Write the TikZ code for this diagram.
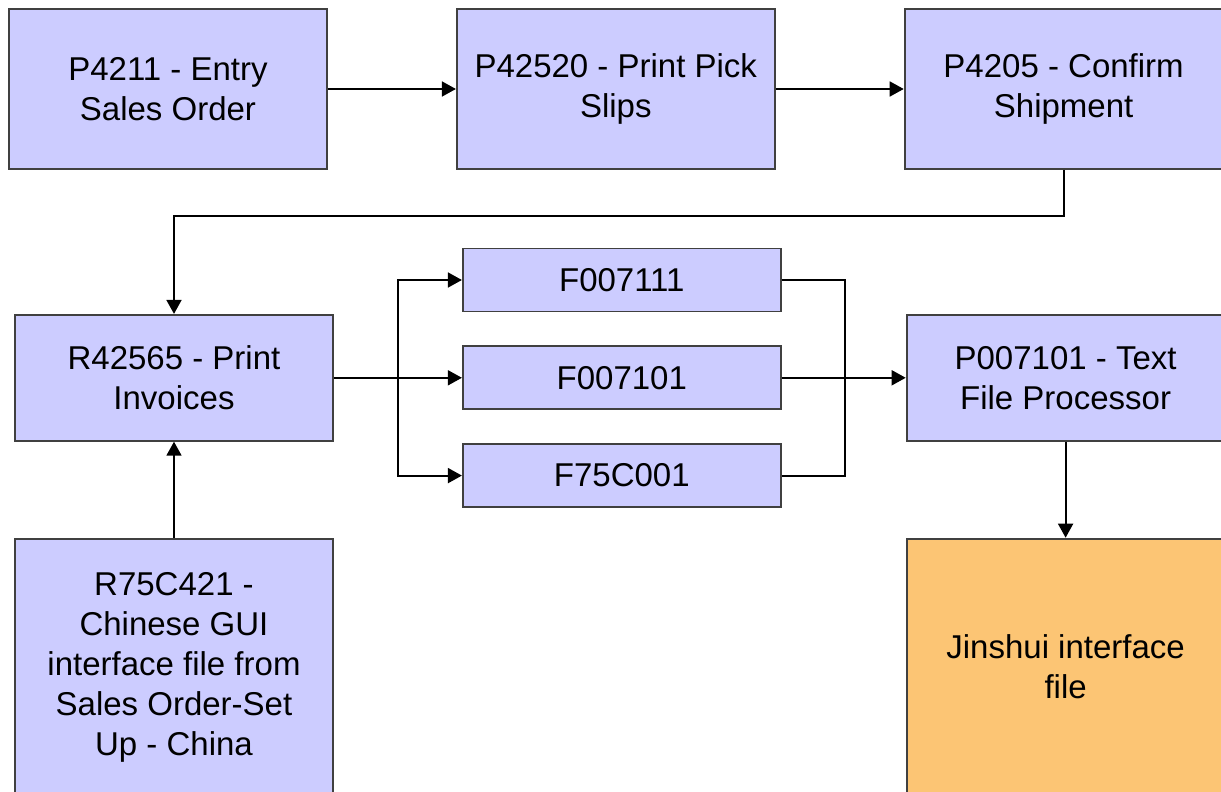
\documentclass[tikz,border=0pt]{standalone}
\usepackage{fontspec}
\setmainfont{Liberation Sans}
\usetikzlibrary{positioning,arrows.meta}

\definecolor{boxblue}{HTML}{CCCCFF}
\definecolor{boxorange}{HTML}{FCC574}
\definecolor{boxline}{HTML}{404040}

\begin{document}
\begin{tikzpicture}[node distance=64pt,
				>={Triangle[length=7pt,width=7.5pt]},
				every path/.style={line width=0.9pt},
				box/.style={
						draw=boxline,
						fill=boxblue,
						align=center,
						font=\fontsize{16.5}{20}\selectfont,
						inner sep=0pt,
						minimum width=159pt,
						minimum height=80pt},
				table/.style={box, minimum height=31.5pt},
				output/.style={box, fill=boxorange, minimum height=128.5pt}]

			\useasboundingbox (0,0) rectangle (610.5pt,-396pt);

			\node[box] (entry) at (84pt,-44.5pt) {P4211 - Entry\\Sales Order};
			\node[box] (pick) [right=of entry] {P42520 - Print Pick\\Slips};
			\node[box] (ship) [right=of pick] {P4205 - Confirm\\Shipment};
			\node[box, minimum height=63pt] (invoice) [below=72pt of entry, xshift=3pt] {R42565 - Print\\Invoices};
			\node[table] (f2) [right=of invoice] {F007101};
			\node[table] (f1) [above=16.5pt of f2] {F007111};
			\node[table] (f3) [below=16.5pt of f2] {F75C001};
			\node[box, minimum height=63pt] (textproc) [right=62pt of f2] {P007101 - Text\\File Processor};
			\node[output] (jinshui) [below=48pt of textproc] {Jinshui interface\\file};
			\node[box, minimum height=128.5pt] (setup) [below=48pt of invoice] {R75C421 -\\Chinese GUI\\interface file from\\Sales Order-Set\\Up - China};

			\coordinate[right=32pt of invoice.east] (split);
			\coordinate[right=31.5pt of f2.east] (merge);

			\draw[->] (entry)--(pick);
			\draw[->] (pick)--(ship);
			\draw[->] (ship.south) -- ++(0,-23pt) -| (invoice.north);
			\draw[->] (invoice)--(f2);
			\draw[->] (split) |- (f1);
			\draw[->] (split) |- (f3);
			\draw (f1.east) -| (merge) |- (f3.east);
			\draw[->] (f2)--(textproc);
			\draw[->] (textproc)--(jinshui);
			\draw[->] (setup)--(invoice);

		\end{tikzpicture}
\end{document}
